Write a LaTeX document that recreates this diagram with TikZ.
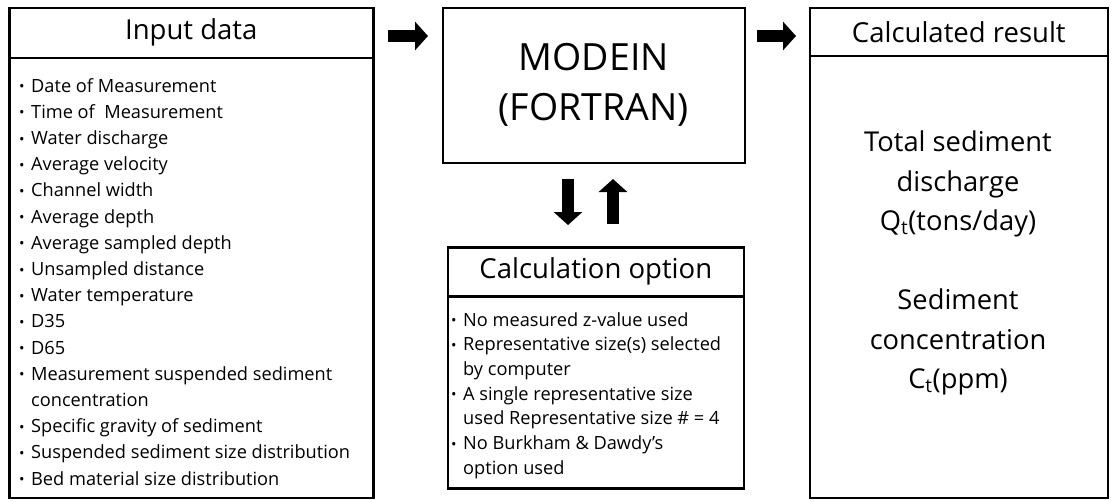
\documentclass[tikz,border=0pt]{standalone}
\usepackage{fontspec}
\setmainfont{Open Sans}
\usetikzlibrary{arrows.meta}
\newcommand\bul{\makebox[12pt][l]{\raisebox{0.02em}{\scalebox{0.8}{•}}}}
\newcommand\ind{\hspace*{12pt}}
\tikzset{
  frame/.style={draw, line width=2.6pt, inner sep=0pt, anchor=north west},
  head/.style={inner sep=0pt, font=\fontsize{27.5}{30}\selectfont},
  listtext/.style={inner sep=0pt, anchor=north west, align=left, font=\fontsize{18.2}{26.2}\selectfont},
  blockarrow/.style={line width=12pt, -{Triangle[width=28pt,length=13pt]}},
}
\begin{document}
\begin{tikzpicture}[x=1pt,y=-1pt]
\useasboundingbox[fill=white] (0,0) rectangle (1111,501);
% boxes
\node[frame, minimum width=364pt, minimum height=490pt] (inp) at (8,6.5) {};
\node[frame, minimum width=364pt, minimum height=50pt] (inph) at (8,6.5) {};
\node[frame, minimum width=302pt, minimum height=155pt] (mod) at (441.5,6.5) {};
\node[frame, minimum width=296pt, minimum height=241pt] (opt) at (446.5,246) {};
\node[frame, minimum width=296pt, minimum height=49pt] (opth) at (446.5,246) {};
\node[frame, minimum width=298pt, minimum height=490pt] (res) at (808.5,6.5) {};
\node[frame, minimum width=298pt, minimum height=48pt] (resh) at (808.5,6.5) {};
% headers
\node[head] (inpt) at (inph.center) {Input data};
\node[head] (optt) at (opth.center) {Calculation option};
\node[head] (rest) at (resh.center) {Calculated result};
% MODEIN
\node[inner sep=0pt, align=center, font=\fontsize{37.5}{50}\selectfont] (modt) at (mod.center) {MODEIN\\(FORTRAN)};
% input list
\node[listtext] (inpl) at (19,78) {%
\bul Date of Measurement\\
\bul Time of\ \ Measurement\\
\bul Water discharge\\
\bul Average velocity\\
\bul Channel width\\
\bul Average depth\\
\bul Average sampled depth\\
\bul Unsampled distance\\
\bul Water temperature\\
\bul D35\\
\bul D65\\
\bul Measurement suspended sediment\\
\ind concentration\\
\bul Specific gravity of sediment\\
\bul Suspended sediment size distribution\\
\bul Bed material size distribution};
% option list
\node[listtext, font=\fontsize{18.2}{24.7}\selectfont] (optl) at (451,312) {%
\bul No measured z-value used\\
\bul Representative size(s) selected\\
\ind by computer\\
\bul A single representative size\\
\ind used Representative size \# = 4\\
\bul No Burkham \& Dawdy's\\
\ind option used};
% result
\node[inner sep=0pt, align=center, font=\fontsize{27.3}{39.5}\selectfont] (resl) at (958,263) {%
Total sediment\\discharge\\Q\textsubscript{t}(tons/day)\\[39.5pt]Sediment\\concentration\\C\textsubscript{t}(ppm)};
% arrows
\coordinate (a1s) at (388,36);
\coordinate (a1e) at (428,36);
\coordinate (a2s) at (757,36);
\coordinate (a2e) at (796,36);
\coordinate (d1s) at (568,179);
\coordinate (d1e) at (568,225);
\coordinate (u1s) at (613,224);
\coordinate (u1e) at (613,179);
\draw[blockarrow] (a1s) -- (a1e);
\draw[blockarrow] (a2s) -- (a2e);
\draw[blockarrow] (d1s) -- (d1e);
\draw[blockarrow] (u1s) -- (u1e);
\end{tikzpicture}
\end{document}
